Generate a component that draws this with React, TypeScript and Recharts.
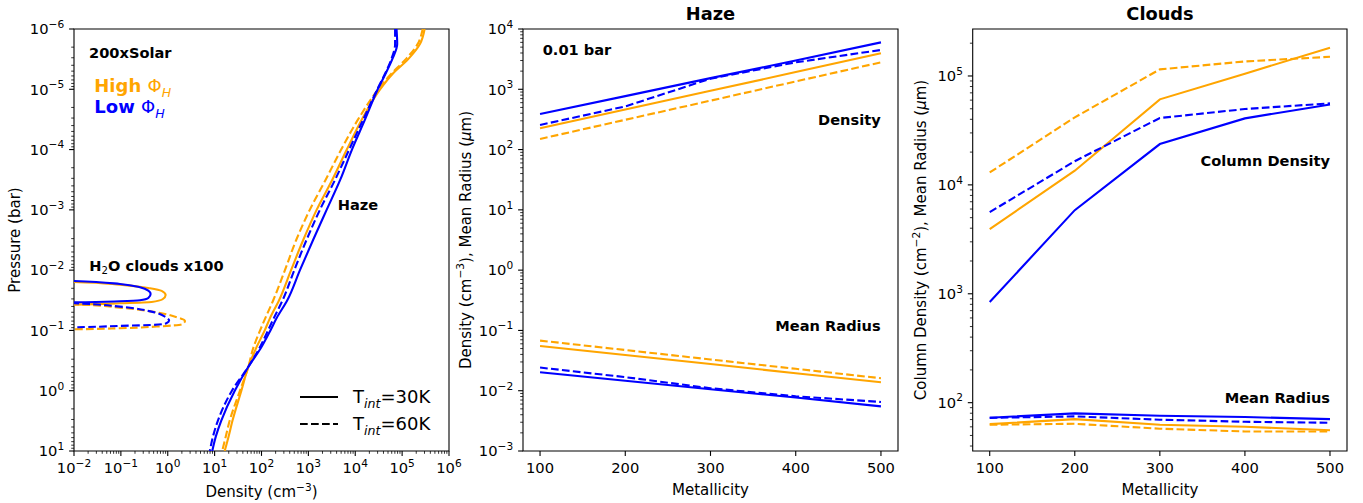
import { LineChart, Line, XAxis, YAxis, ReferenceArea } from 'recharts'

const FONT = '"DejaVu Sans", sans-serif'
const ORANGE = '#ffa500'
const BLUE = '#0000ff'
const DASH = '7.7 3.3'
const LW = 2.1

// ---- panel 1: vertical profiles (haze) ----
const pressure = [
  1e-6, 1.78e-6, 3.16e-6, 5.62e-6, 1e-5, 3.16e-5, 1e-4, 3.16e-4, 1e-3, 3.16e-3,
  1e-2, 3.16e-2, 6.3e-2, 0.1, 0.2, 0.4, 1, 3.16, 5.62, 10,
]
const hazeHighSolid = [3.02e5, 2.4e5, 1.35e5, 6.17e4, 3.39e4, 1.38e4, 6610, 3240, 1500, 776, 427, 237, 151, 117, 75.9, 52.5, 37.2, 24, 20, 16.4]
const hazeHighDashed = [2.75e5, 2.14e5, 1.2e5, 5.75e4, 3.09e4, 1.15e4, 5010, 2340, 1070, 550, 316, 178, 120, 93.3, 66.1, 52.5, 34.7, 20.9, 17.4, 14.5]
const hazeLowSolid = [7.6e4, 7.85e4, 6.17e4, 4.37e4, 3.02e4, 1.62e4, 8510, 4790, 2450, 1260, 661, 355, 209, 155, 95.5, 52.5, 26.9, 13.8, 10.7, 8.9]
const hazeLowDashed = [7.08e4, 7.08e4, 5.89e4, 4.27e4, 2.95e4, 1.48e4, 7410, 3720, 1760, 912, 501, 282, 182, 138, 89.1, 52.5, 23.4, 11.7, 9.3, 7.9]

// ---- panel 1: H2O cloud profiles (x100) ----
const cloudLowSolidP = [0.0148, 0.0151, 0.01694, 0.01923, 0.02188, 0.02483, 0.02897, 0.03162, 0.0328, 0.0341, 0.0347]
const cloudLowSolidD = [0.001, 0.01, 0.0955, 0.255, 0.385, 0.431, 0.385, 0.255, 0.0955, 0.01, 0.001]
const cloudHighSolidP = [0.0155, 0.0157, 0.0174, 0.02, 0.0221, 0.0258, 0.0304, 0.0337, 0.0355, 0.0373, 0.038]
const cloudHighSolidD = [0.001, 0.01, 0.0955, 0.417, 0.741, 0.902, 0.776, 0.452, 0.0955, 0.01, 0.001]
const cloudLowDashedP = [0.0351, 0.0355, 0.0403, 0.0488, 0.059, 0.0687, 0.076, 0.0811, 0.0841, 0.0885, 0.0891]
const cloudLowDashedD = [0.001, 0.01, 0.0955, 0.452, 0.871, 1.07, 0.933, 0.49, 0.0955, 0.01, 0.001]
const cloudHighDashedP = [0.0363, 0.0368, 0.0419, 0.0501, 0.0605, 0.0697, 0.0791, 0.0863, 0.092, 0.0955, 0.0966]
const cloudHighDashedD = [0.001, 0.01, 0.0955, 0.575, 1.55, 2.33, 2.0, 0.575, 0.0955, 0.01, 0.001]

// ---- panels 2 & 3 ----
const metallicity = [100, 200, 300, 400, 500]
const hazeDensLowSolid = [390, 770, 1530, 3000, 6000]
const hazeDensLowDashed = [256, 520, 1500, 2800, 4490]
const hazeDensHighSolid = [225, 462, 943, 1930, 3950]
const hazeDensHighDashed = [150, 312, 648, 1350, 2800]
const hazeRadHighDashed = [0.0678, 0.0473, 0.033, 0.0231, 0.0161]
const hazeRadHighSolid = [0.0553, 0.0391, 0.0277, 0.0195, 0.0138]
const hazeRadLowDashed = [0.0242, 0.0168, 0.011, 0.0081, 0.0065]
const hazeRadLowSolid = [0.0202, 0.0146, 0.0106, 0.0077, 0.0055]

const cloudColHighDashed = [13000, 41700, 115000, 136000, 150000]
const cloudColHighSolid = [3920, 13500, 61000, 105000, 182000]
const cloudColLowDashed = [5620, 16500, 41100, 49700, 56100]
const cloudColLowSolid = [841, 5860, 23700, 40800, 54800]
const cloudRadLowSolid = [72.8, 79.8, 75.9, 73.8, 70.6]
const cloudRadLowDashed = [72.5, 74.8, 69.8, 66.8, 65.4]
const cloudRadHighSolid = [63.5, 70.6, 62.8, 60.1, 55.9]
const cloudRadHighDashed = [62.7, 64, 57.7, 54.4, 54.4]

const profile = (d: number[], p: number[]) => d.map((v, i) => ({ d: v, p: p[i] }))

const hazeRows = metallicity.map((m, i) => ({
  m,
  dLS: hazeDensLowSolid[i], dLD: hazeDensLowDashed[i], dHS: hazeDensHighSolid[i], dHD: hazeDensHighDashed[i],
  rLS: hazeRadLowSolid[i], rLD: hazeRadLowDashed[i], rHS: hazeRadHighSolid[i], rHD: hazeRadHighDashed[i],
}))
const cloudRows = metallicity.map((m, i) => ({
  m,
  cLS: cloudColLowSolid[i], cLD: cloudColLowDashed[i], cHS: cloudColHighSolid[i], cHD: cloudColHighDashed[i],
  rLS: cloudRadLowSolid[i], rLD: cloudRadLowDashed[i], rHS: cloudRadHighSolid[i], rHD: cloudRadHighDashed[i],
}))

// log ticks: majors plus 2..9 minors inside [lo, hi]
function logTicks(lo: number, hi: number) {
  const out: number[] = []
  for (let e = Math.floor(Math.log10(lo)); e <= Math.ceil(Math.log10(hi)); e++) {
    for (let k = 1; k < 10; k++) {
      const v = k * Math.pow(10, e)
      if (v >= lo * 0.9999 && v <= hi * 1.0001) out.push(v)
    }
  }
  return out
}

const isMajor = (v: number) => {
  const l = Math.log10(v)
  return Math.abs(l - Math.round(l)) < 1e-6
}

const expText = (v: number) => {
  const e = Math.round(Math.log10(v))
  return e < 0 ? '\u2212' + -e : String(e)
}

const TICK_FS = 14.7
const SUP_FS = 10.6

function BottomTick({ x, y, payload, log }: any) {
  const v = payload.value
  const major = log ? isMajor(v) : true
  return (
    <g>
      <line x1={x} x2={x} y1={y} y2={y + (major ? 4.9 : 2.8)} stroke="#000" strokeWidth={major ? 1.1 : 0.8} />
      {major && (
        <text x={x} y={y + 22} textAnchor="middle" fontSize={TICK_FS} fill="#000" fontFamily={FONT}>
          {log ? (
            <>
              10<tspan dy={-6.5} fontSize={SUP_FS}>{expText(v)}</tspan>
            </>
          ) : (
            String(v)
          )}
        </text>
      )}
    </g>
  )
}

function LeftTick({ x, y, payload }: any) {
  const v = payload.value
  const major = isMajor(v)
  return (
    <g>
      <line x1={x} x2={x - (major ? 4.9 : 2.8)} y1={y} y2={y} stroke="#000" strokeWidth={major ? 1.1 : 0.8} />
      {major && (
        <text x={x - 9.8} y={y + 5.3} textAnchor="end" fontSize={TICK_FS} fill="#000" fontFamily={FONT}>
          10<tspan dy={-6.5} fontSize={SUP_FS}>{expText(v)}</tspan>
        </text>
      )}
    </g>
  )
}

const axisCommon = {
  axisLine: false,
  tickLine: false,
  tickSize: 0,
  tickMargin: 0,
  interval: 0 as const,
  allowDataOverflow: true,
}

const metTicks = [100, 200, 300, 400, 500]

export default function App() {
  const p1x: [number, number] = [1e-2, 1e6]
  const p1y: [number, number] = [1e-6, 10]
  const p2y: [number, number] = [1e-3, 1e4]
  const p3y: [number, number] = [36, 2.7e5]
  const mx: [number, number] = [80, 520]

  // profiles are monotonic in pressure, so smooth along y
  const profLine = (key: string, data: any[], color: string, dashed: boolean) => (
    <Line
      key={key}
      data={data}
      dataKey="p"
      type="monotoneY"
      stroke={color}
      strokeWidth={LW}
      strokeDasharray={dashed ? DASH : undefined}
      dot={false}
      activeDot={false}
      isAnimationActive={false}
    />
  )

  const metLine = (key: string, color: string, dashed: boolean) => (
    <Line
      key={key}
      dataKey={key}
      type="linear"
      stroke={color}
      strokeWidth={LW}
      strokeDasharray={dashed ? DASH : undefined}
      dot={false}
      activeDot={false}
      isAnimationActive={false}
    />
  )

  return (
    <div style={{ position: 'absolute', left: 0, top: 0, width: 1363, height: 503, background: '#fff', fontFamily: FONT }}>
      {/* panel 1 */}
      <div style={{ position: 'absolute', left: 0, top: 0 }}>
        <LineChart width={470} height={503} margin={{ top: 29, right: 21, bottom: 22, left: 14 }}>
          <XAxis
            type="number"
            dataKey="d"
            scale="log"
            domain={p1x}
            ticks={logTicks(p1x[0], p1x[1])}
            height={30}
            tick={(p: any) => <BottomTick {...p} log />}
            {...axisCommon}
          />
          <YAxis
            type="number"
            scale="log"
            domain={p1y}
            reversed
            ticks={logTicks(p1y[0], p1y[1])}
            width={60}
            tick={(p: any) => <LeftTick {...p} />}
            {...axisCommon}
          />
          <ReferenceArea x1={p1x[0]} x2={p1x[1]} y1={p1y[0]} y2={p1y[1]} fill="none" stroke="#000" strokeWidth={1.1} ifOverflow="visible" />
          {profLine('hs', profile(hazeHighSolid, pressure), ORANGE, false)}
          {profLine('hd', profile(hazeHighDashed, pressure), ORANGE, true)}
          {profLine('ls', profile(hazeLowSolid, pressure), BLUE, false)}
          {profLine('ld', profile(hazeLowDashed, pressure), BLUE, true)}
          {profLine('chs', profile(cloudHighSolidD, cloudHighSolidP), ORANGE, false)}
          {profLine('chd', profile(cloudHighDashedD, cloudHighDashedP), ORANGE, true)}
          {profLine('cls', profile(cloudLowSolidD, cloudLowSolidP), BLUE, false)}
          {profLine('cld', profile(cloudLowDashedD, cloudLowDashedP), BLUE, true)}
        </LineChart>
      </div>

      {/* panel 2 */}
      <div style={{ position: 'absolute', left: 455, top: 0 }}>
        <LineChart width={455} height={503} data={hazeRows} margin={{ top: 29, right: 12, bottom: 22, left: 8 }}>
          <XAxis
            type="number"
            dataKey="m"
            domain={mx}
            ticks={metTicks}
            height={30}
            tick={(p: any) => <BottomTick {...p} />}
            {...axisCommon}
          />
          <YAxis
            type="number"
            scale="log"
            domain={p2y}
            ticks={logTicks(p2y[0], p2y[1])}
            width={60}
            tick={(p: any) => <LeftTick {...p} />}
            {...axisCommon}
          />
          <ReferenceArea x1={mx[0]} x2={mx[1]} y1={p2y[0]} y2={p2y[1]} fill="none" stroke="#000" strokeWidth={1.1} ifOverflow="visible" />
          {metLine('dHS', ORANGE, false)}
          {metLine('dHD', ORANGE, true)}
          {metLine('dLS', BLUE, false)}
          {metLine('dLD', BLUE, true)}
          {metLine('rHS', ORANGE, false)}
          {metLine('rHD', ORANGE, true)}
          {metLine('rLS', BLUE, false)}
          {metLine('rLD', BLUE, true)}
        </LineChart>
      </div>

      {/* panel 3 */}
      <div style={{ position: 'absolute', left: 905, top: 0 }}>
        <LineChart width={458} height={503} data={cloudRows} margin={{ top: 29, right: 16, bottom: 22, left: 7.7 }}>
          <XAxis
            type="number"
            dataKey="m"
            domain={mx}
            ticks={metTicks}
            height={30}
            tick={(p: any) => <BottomTick {...p} />}
            {...axisCommon}
          />
          <YAxis
            type="number"
            scale="log"
            domain={p3y}
            ticks={logTicks(p3y[0], p3y[1])}
            width={60}
            tick={(p: any) => <LeftTick {...p} />}
            {...axisCommon}
          />
          <ReferenceArea x1={mx[0]} x2={mx[1]} y1={p3y[0]} y2={p3y[1]} fill="none" stroke="#000" strokeWidth={1.1} ifOverflow="visible" />
          {metLine('cHS', ORANGE, false)}
          {metLine('cHD', ORANGE, true)}
          {metLine('cLS', BLUE, false)}
          {metLine('cLD', BLUE, true)}
          {metLine('rHS', ORANGE, false)}
          {metLine('rHD', ORANGE, true)}
          {metLine('rLS', BLUE, false)}
          {metLine('rLD', BLUE, true)}
        </LineChart>
      </div>

      {/* titles, axis labels, annotations, legend */}
      <svg width={1363} height={503} style={{ position: 'absolute', left: 0, top: 0, pointerEvents: 'none' }} fontFamily={FONT}>
        <g fontSize={15} fill="#000">
          <text transform="translate(19.5,240) rotate(-90)" textAnchor="middle">Pressure (bar)</text>
          <text x={261.5} y={497} textAnchor="middle">
            Density (cm<tspan dy={-6.5} fontSize={SUP_FS}>{'\u22123'}</tspan><tspan dy={6.5}>)</tspan>
          </text>
          <text transform="translate(470.5,240) rotate(-90)" textAnchor="middle">
            Density (cm<tspan dy={-6.5} fontSize={SUP_FS}>{'\u22123'}</tspan>
            <tspan dy={6.5}>), Mean Radius (</tspan><tspan fontStyle="italic">μ</tspan>m)
          </text>
          <text x={710.5} y={494.5} textAnchor="middle">Metallicity</text>
          <text transform="translate(926,240) rotate(-90)" textAnchor="middle">
            Column Density (cm<tspan dy={-6.5} fontSize={SUP_FS}>{'\u22122'}</tspan>
            <tspan dy={6.5}>), Mean Radius (</tspan><tspan fontStyle="italic">μ</tspan>m)
          </text>
          <text x={1160} y={494.5} textAnchor="middle">Metallicity</text>
        </g>
        <g fontSize={17.8} fontWeight="bold" fill="#000" textAnchor="middle">
          <text x={710.5} y={20}>Haze</text>
          <text x={1160} y={20}>Clouds</text>
        </g>
        <g fontSize={14.6} fontWeight="bold" fill="#000">
          <text x={89} y={58.3}>200xSolar</text>
          <text x={337.7} y={210}>Haze</text>
          <text x={89.3} y={270.7}>
            H<tspan dy={3.5} fontSize={10.2} fontWeight="normal">2</tspan><tspan dy={-3.5}>O clouds x100</tspan>
          </text>
          <text x={542.7} y={55}>0.01 bar</text>
          <text x={880.7} y={124.8} textAnchor="end">Density</text>
          <text x={880.7} y={330.7} textAnchor="end">Mean Radius</text>
          <text x={1330} y={165.5} textAnchor="end">Column Density</text>
          <text x={1330} y={403.3} textAnchor="end">Mean Radius</text>
        </g>
        <g fontSize={18}>
          <text x={94.3} y={92.3} fill={ORANGE}>
            <tspan fontWeight="bold">High </tspan>Φ<tspan dy={4.5} fontSize={12.6} fontStyle="italic">H</tspan>
          </text>
          <text x={94.3} y={113.3} fill={BLUE}>
            <tspan fontWeight="bold">Low </tspan>Φ<tspan dy={4.5} fontSize={12.6} fontStyle="italic">H</tspan>
          </text>
        </g>
        <g>
          <line x1={300} x2={338} y1={397} y2={397} stroke="#000" strokeWidth={LW} />
          <line x1={300} x2={338} y1={424} y2={424} stroke="#000" strokeWidth={LW} strokeDasharray={DASH} />
          <text x={353} y={403.3} fontSize={18} fill="#000">
            T<tspan dy={4.5} fontSize={12.6} fontStyle="italic">int</tspan><tspan dy={-4.5}>=30K</tspan>
          </text>
          <text x={353} y={430.3} fontSize={18} fill="#000">
            T<tspan dy={4.5} fontSize={12.6} fontStyle="italic">int</tspan><tspan dy={-4.5}>=60K</tspan>
          </text>
        </g>
      </svg>
    </div>
  )
}
